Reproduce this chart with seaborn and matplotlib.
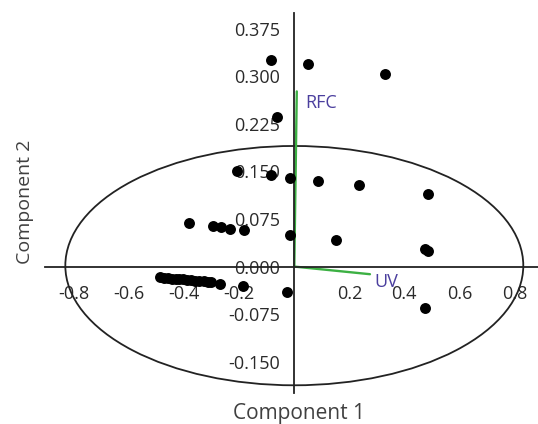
import numpy as np
import pandas as pd
import seaborn as sns
import matplotlib
matplotlib.use("Agg")
import matplotlib.pyplot as plt
from matplotlib.patches import Ellipse

# PCA scores (component 1, component 2)
comp1 = [-0.086, 0.051, 0.330, -0.062, -0.207, -0.086, -0.016, 0.085, 0.236, 0.485,
         -0.382, -0.295, -0.268, -0.234, -0.182, -0.016, 0.150, 0.476, 0.485,
         -0.270, -0.185, -0.025, 0.475,
         -0.488, -0.472, -0.458, -0.445, -0.430, -0.418, -0.405, -0.390, -0.375,
         -0.360, -0.345, -0.330, -0.315, -0.302]
comp2 = [0.325, 0.319, 0.303, 0.235, 0.150, 0.144, 0.139, 0.135, 0.129, 0.115,
         0.068, 0.064, 0.062, 0.060, 0.058, 0.050, 0.042, 0.027, 0.025,
         -0.028, -0.031, -0.040, -0.066,
         -0.017, -0.018, -0.018, -0.019, -0.019, -0.020, -0.020, -0.021, -0.021,
         -0.022, -0.022, -0.023, -0.024, -0.024]

# loadings
load_names = ["RFC", "UV"]
load_x = [0.009, 0.275]
load_y = [0.276, -0.012]

# confidence ellipse
ell_center = (0.0, 0.0015)
ell_width = 1.665
ell_height = 0.377

xticks = [-0.8, -0.6, -0.4, -0.2, 0.2, 0.4, 0.6, 0.8]
yticks = [-0.150, -0.075, 0.000, 0.075, 0.150, 0.225, 0.300, 0.375]

df = pd.DataFrame({"Component 1": comp1, "Component 2": comp2})

sns.set_style("white")
plt.rcParams["font.family"] = ["Open Sans", "DejaVu Sans"]
plt.rcParams["axes.unicode_minus"] = False

fig = plt.figure(figsize=(5.38, 4.24), dpi=100)
ax = fig.add_axes([0, 0, 1, 1])
ax.patch.set_alpha(0)

ax.add_patch(Ellipse(ell_center, ell_width, ell_height, fill=False,
                     edgecolor="#222222", linewidth=1.3, zorder=1))

for name, lx, ly in zip(load_names, load_x, load_y):
    ax.plot([0, lx], [0, ly], color="#3cb043", linewidth=1.7, zorder=2)

sns.scatterplot(data=df, x="Component 1", y="Component 2", ax=ax, color="black",
                s=62, edgecolor="black", linewidth=0, zorder=3)

ax.text(load_x[0] + 0.03, load_y[0] - 0.018, load_names[0], color="#4b3f9e",
        fontsize=13, va="center", ha="left")
ax.text(load_x[1] + 0.015, load_y[1] - 0.012, load_names[1], color="#4b3f9e",
        fontsize=13, va="center", ha="left")

ax.set_xlim(-1.070, 0.886)
ax.set_ylim(-0.248, 0.420)

for side in ["top", "right"]:
    ax.spines[side].set_visible(False)
ax.spines["left"].set_position(("data", 0))
ax.spines["bottom"].set_position(("data", 0))
ax.spines["left"].set_bounds(-0.199, 0.400)
ax.spines["bottom"].set_bounds(-0.905, 0.886)
for side in ["left", "bottom"]:
    ax.spines[side].set_color("#222222")
    ax.spines[side].set_linewidth(1.3)

ax.set_xticks(xticks)
ax.set_xticklabels([f"{t:.1f}" for t in xticks])
ax.set_yticks(yticks)
ax.set_yticklabels([f"{t:.3f}" for t in yticks])
ax.tick_params(axis="both", direction="out", length=8, width=1.3, color="#222222",
               labelsize=13, labelcolor="#2a2a2a")
ax.tick_params(axis="x", pad=5)
ax.tick_params(axis="y", pad=2)

ax.set_xlabel("")
ax.set_ylabel("")
fig.text(299 / 538, (424 - 403) / 424, "Component 1", ha="center", va="top",
         fontsize=15, color="#404040")
fig.text(25 / 538, (424 - 202) / 424, "Component 2", ha="center", va="center",
         rotation=90, fontsize=14, color="#404040")

fig.savefig("out.png", dpi=100)
